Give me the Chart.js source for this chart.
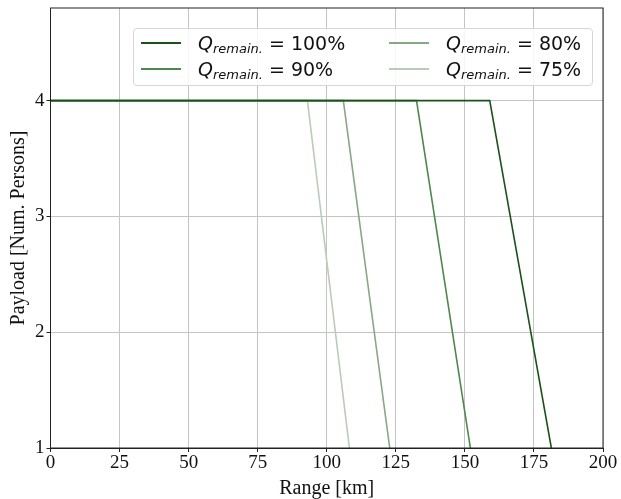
<!DOCTYPE html>
<html>
<head>
<meta charset="utf-8">
<script src="https://cdn.jsdelivr.net/npm/chart.js@4.4.0/dist/chart.umd.min.js"></script>
<style>
    html, body { margin: 0; padding: 0; background: #fff; }
    #wrap { position: relative; width: 621px; height: 499px; }
    #legend {
        position: absolute;
        left: 133px; top: 28px; width: 460px; height: 58px;
        border: 1px solid #d6d6d6; border-radius: 4px;
        background: rgba(255,255,255,0.85);
        display: grid;
        grid-template-rows: 1fr 1fr;
        grid-template-columns: 248px 1fr;
        grid-auto-flow: column;
        font-family: "DejaVu Sans", sans-serif;
        font-size: 19px; color: #111;
        box-sizing: border-box;
        padding: 1px 0 3px 7px;
    }
    .item { display: flex; align-items: center; white-space: nowrap; }
    .swatch { display: inline-block; width: 40px; height: 0; border-top: 2px solid; margin-right: 17px; }
    .txt sub { font-size: 13px; font-style: italic; vertical-align: -3px; margin-right: 6px; line-height: 0; }
</style>
</head>
<body>
<div id="wrap">
    <canvas id="payloadChart" width="621" height="499"></canvas>
    <div id="legend"></div>
</div>
<script>
// series: range [km] vs payload [persons]
var qLabels = ['100%', '90%', '80%', '75%'];
var range100 = [0, 159, 181.3];
var range90 = [0, 132.5, 152];
var range80 = [0, 106, 122.8];
var range75 = [0, 93, 108.2];
var payload = [4, 4, 1];

var xTicks = [0, 25, 50, 75, 100, 125, 150, 175, 200];
var yTicks = [1, 2, 3, 4];

var colors = [
    "#1a531a", // 100%
    "#4b8a4b", // 90%
    "#86a886", // 80%
    "#b8cdb8", // 75%
];

function toPoints(xs, ys) {
    var pts = [];
    for (var i = 0; i < xs.length; i++) {
        pts.push({ x: xs[i], y: ys[i] });
    }
    return pts;
}

var ranges = [range100, range90, range80, range75];
var datasets = [];
for (var i = 0; i < ranges.length; i++) {
    datasets.push({
        label: 'Q_remain. = ' + qLabels[i],
        data: toPoints(ranges[i], payload),
        borderColor: colors[i],
        borderWidth: 1.6,
        pointRadius: 0,
        fill: false,
        tension: 0
    });
}

// draw the top and right spines like matplotlib
var frame = {
    id: 'frame',
    afterDraw(chart) {
        var a = chart.chartArea;
        var c = chart.ctx;
        c.save();
        c.strokeStyle = '#222';
        c.lineWidth = 1;
        c.strokeRect(a.left, a.top, a.right - a.left, a.bottom - a.top);
        c.restore();
    }
};

var serif = "'Liberation Serif', 'Times New Roman', serif";

var ctx = document.getElementById('payloadChart').getContext('2d');
var payloadChart = new Chart(ctx, {
    type: 'line',
    data: { datasets: datasets },
    options: {
        responsive: false,
        animation: false,
        layout: { padding: { top: 8, right: 18, left: 9, bottom: 0 } },
        plugins: {
            legend: { display: false },
            tooltip: { enabled: false }
        },
        scales: {
            x: {
                type: 'linear',
                min: 0,
                max: 200,
                afterBuildTicks: function (axis) {
                    axis.ticks = xTicks.map(function (v) { return { value: v }; });
                },
                grid: { color: '#c4c4c4', lineWidth: 1, tickColor: '#222', tickLength: 4 },
                border: { color: '#222', width: 1 },
                ticks: { color: '#111', font: { family: serif, size: 19, lineHeight: 1 }, padding: 2, maxRotation: 0 },
                title: { display: true, text: 'Range [km]', color: '#111', font: { family: serif, size: 20, lineHeight: 1 }, padding: { top: 4, bottom: 0 } }
            },
            y: {
                type: 'linear',
                min: 1,
                max: 4.8,
                afterBuildTicks: function (axis) {
                    axis.ticks = yTicks.map(function (v) { return { value: v }; });
                },
                afterFit: function (axis) {
                    // top label is at 4, not at the top edge
                    axis.paddingTop = 0;
                },
                grid: { color: '#c4c4c4', lineWidth: 1, tickColor: '#222', tickLength: 4 },
                border: { color: '#222', width: 1 },
                ticks: { color: '#111', font: { family: serif, size: 19 }, padding: 2 },
                title: { display: true, text: 'Payload [Num. Persons]', color: '#111', font: { family: serif, size: 20, lineHeight: 1 }, padding: { top: 0, bottom: 4 } }
            }
        }
    },
    plugins: [frame]
});

// legend with the subscript, built from the datasets
var legend = document.getElementById('legend');
datasets.forEach(function (ds, i) {
    var item = document.createElement('div');
    item.className = 'item';
    item.innerHTML = '<span class="swatch" style="border-color:' + ds.borderColor + '"></span>' +
        '<span class="txt"><i>Q</i><sub>remain.</sub>= ' + qLabels[i] + '</span>';
    legend.appendChild(item);
});
</script>
</body>
</html>
